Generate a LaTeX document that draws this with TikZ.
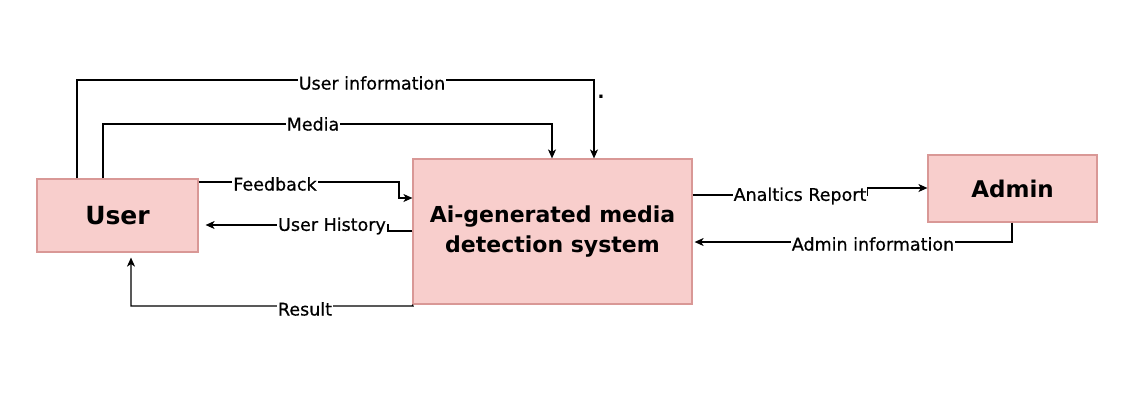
\documentclass[tikz,border=0pt]{standalone}
\usepackage{fontspec}
\setmainfont{DejaVu Sans}
\newfontfamily\lblfont[FakeBold=0.6]{DejaVu Sans}
\usetikzlibrary{arrows.meta}
\definecolor{boxfill}{HTML}{F8CECC}
\definecolor{boxline}{HTML}{D99896}
\tikzset{
  box/.style={draw=boxline, fill=boxfill, line width=1.2pt, font=\bfseries, align=center, inner sep=0pt},
  conn/.style={draw=black, line width=1.3pt},
  arr/.style={conn, -{Stealth[length=9pt,width=8pt,inset=2.5pt]}},
  lbl/.style={fill=white, inner sep=1pt, font=\lblfont\fontsize{17.5}{20}\selectfont}
}
\begin{document}
\begin{tikzpicture}[x=1pt,y=-1pt]
\useasboundingbox (0,0) rectangle (1147,407);
\fill[white] (0,0) rectangle (1147,407);

\node[box, minimum width=161pt, minimum height=73pt, font=\bfseries\fontsize{25}{28}\selectfont] (user) at (117.5,215.5) {User};
\node[box, minimum width=279pt, minimum height=145pt, font=\bfseries\fontsize{22}{30}\selectfont] (system) at (552.5,231.5) {Ai-generated media\\detection system};
\node[box, minimum width=169pt, minimum height=67pt, font=\bfseries\fontsize{23}{26}\selectfont] (admin) at (1012.5,188.5) {Admin};

% User information
\draw[arr] (user.north -| 77,0) -- (77,80) -- (594,80) -- (system.north -| 594,0);
\node[lbl] (lui) at (372,83) {User information};
\node[font=\bfseries\fontsize{18}{18}\selectfont] (dot) at (601,97) {.};

% Media
\draw[arr] (user.north -| 103,0) -- (103,124) -- (552,124) -- (system.north -| 552,0);
\node[lbl] (lmedia) at (313,124) {Media};

% Feedback
\draw[arr] (user.east |- 0,182) -- (399,182) -- (399,198) -- (system.west |- 0,198);
\node[lbl] (lfb) at (275,184) {Feedback};

% User History
\draw[arr, shorten >=7pt] (system.west |- 0,231) -- (388,231) -- (388,225) -- (user.east |- 0,225);
\node[lbl] (luh) at (332,226) {User History};

% Result
\draw[arr, shorten >=5pt] (system.south west) -- (413,306) -- (131,306) -- (user.south -| 131,0);
\node[lbl] (lres) at (305,309) {Result};

% Analtics Report
\draw[arr] (system.east |- 0,195) -- (867,195) -- (867,188) -- (admin.west |- 0,188);
\node[lbl] (lar) at (800,196) {Analtics Report};

% Admin information
\draw[arr, shorten >=2pt] (admin.south -| 1012,0) -- (1012,242) -- (system.east |- 0,242);
\node[lbl] (lai) at (873,244) {Admin information};
\end{tikzpicture}
\end{document}
